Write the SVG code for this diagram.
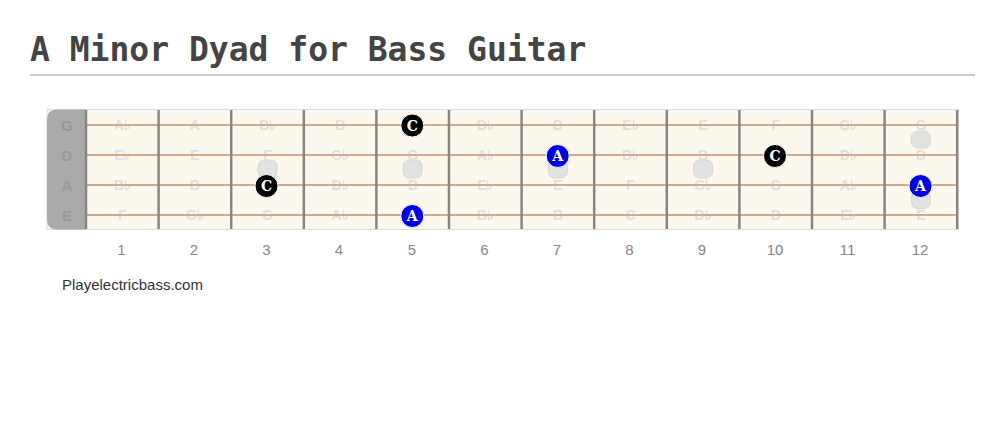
<svg xmlns="http://www.w3.org/2000/svg" width="1005" height="428" viewBox="0 0 1005 428">
<defs>
<style>
.title{font-family:"DejaVu Sans Mono",monospace;font-weight:bold;font-size:33px;fill:#444}
.sname{font-family:"Liberation Sans",Arial,sans-serif;font-weight:bold;font-size:15px;fill:#999;text-anchor:middle}
.note{font-family:"Liberation Sans",Arial,sans-serif;font-weight:bold;font-size:14px;fill:#e2dfda;text-anchor:middle}
.fnum{font-family:"Liberation Sans",Arial,sans-serif;font-size:15px;fill:#888;text-anchor:middle}
.credit{font-family:"Liberation Sans",Arial,sans-serif;font-size:15px;fill:#333}
.fret{stroke:#8a8580;stroke-width:2.5}
.str{stroke:#d2ab8c;stroke-width:2}
.inlay{fill:#e2e2e0;stroke:#d8d8d6;stroke-width:1}
.dotC{fill:#000;stroke:#fff;stroke-width:1}
.dotA{fill:#0000ee;stroke:#fff;stroke-width:1}
.dl{font-family:"DejaVu Serif","Liberation Serif",serif;font-weight:bold;font-size:14px;fill:#fff;text-anchor:middle}
</style>
</defs>
<rect width="1005" height="428" fill="#fff"/>
<text class="title" x="30" y="61">A Minor Dyad for Bass Guitar</text>
<line x1="30" y1="75" x2="975" y2="75" stroke="#ccc" stroke-width="2"/>

<g id="fretboard">
<rect x="47" y="109.5" width="911" height="120" fill="#fdf8ee" stroke="#ddd" stroke-width="1"/>
<path d="M86 109.5 H57 Q47 109.5 47 119.5 V219.5 Q47 229.5 57 229.5 H86 Z" fill="#aaa"/>
<text class="sname" x="67" y="130.5">G</text>
<text class="sname" x="67" y="160.5">D</text>
<text class="sname" x="67" y="190.5">A</text>
<text class="sname" x="67" y="220.5">E</text>
</g>

<g id="notes">
<text class="note" x="122.3" y="130">A♭</text><text class="note" x="194.9" y="130">A</text><text class="note" x="267.5" y="130">B♭</text><text class="note" x="340.1" y="130">B</text><text class="note" x="485.3" y="130">D♭</text><text class="note" x="557.9" y="130">D</text><text class="note" x="630.5" y="130">E♭</text><text class="note" x="703.1" y="130">E</text><text class="note" x="775.7" y="130">F</text><text class="note" x="848.3" y="130">G♭</text><text class="note" x="920.9" y="130">G</text>
<text class="note" x="122.3" y="160">E♭</text><text class="note" x="194.9" y="160">E</text><text class="note" x="267.5" y="160">F</text><text class="note" x="340.1" y="160">G♭</text><text class="note" x="412.7" y="160">G</text><text class="note" x="485.3" y="160">A♭</text><text class="note" x="630.5" y="160">B♭</text><text class="note" x="703.1" y="160">B</text><text class="note" x="848.3" y="160">D♭</text><text class="note" x="920.9" y="160">D</text>
<text class="note" x="122.3" y="190">B♭</text><text class="note" x="194.9" y="190">B</text><text class="note" x="340.1" y="190">D♭</text><text class="note" x="412.7" y="190">D</text><text class="note" x="485.3" y="190">E♭</text><text class="note" x="557.9" y="190">E</text><text class="note" x="630.5" y="190">F</text><text class="note" x="703.1" y="190">G♭</text><text class="note" x="775.7" y="190">G</text><text class="note" x="848.3" y="190">A♭</text>
<text class="note" x="122.3" y="220">F</text><text class="note" x="194.9" y="220">G♭</text><text class="note" x="267.5" y="220">G</text><text class="note" x="340.1" y="220">A♭</text><text class="note" x="485.3" y="220">B♭</text><text class="note" x="557.9" y="220">B</text><text class="note" x="630.5" y="220">C</text><text class="note" x="703.1" y="220">D♭</text><text class="note" x="775.7" y="220">D</text><text class="note" x="848.3" y="220">E♭</text><text class="note" x="920.9" y="220">E</text>
</g>

<g id="strings">
<line class="str" x1="86" y1="125" x2="958" y2="125"/>
<line class="str" x1="86" y1="155" x2="958" y2="155"/>
<line class="str" x1="86" y1="185" x2="958" y2="185"/>
<line class="str" x1="86" y1="215" x2="958" y2="215"/>
</g>

<g id="frets">
<line class="fret" x1="86" y1="110" x2="86" y2="229"/>
<line class="fret" x1="158.6" y1="110" x2="158.6" y2="229"/>
<line class="fret" x1="231.2" y1="110" x2="231.2" y2="229"/>
<line class="fret" x1="303.8" y1="110" x2="303.8" y2="229"/>
<line class="fret" x1="376.4" y1="110" x2="376.4" y2="229"/>
<line class="fret" x1="449" y1="110" x2="449" y2="229"/>
<line class="fret" x1="521.6" y1="110" x2="521.6" y2="229"/>
<line class="fret" x1="594.2" y1="110" x2="594.2" y2="229"/>
<line class="fret" x1="666.8" y1="110" x2="666.8" y2="229"/>
<line class="fret" x1="739.4" y1="110" x2="739.4" y2="229"/>
<line class="fret" x1="812" y1="110" x2="812" y2="229"/>
<line class="fret" x1="884.6" y1="110" x2="884.6" y2="229"/>
<line class="fret" x1="957.2" y1="110" x2="957.2" y2="229"/>
</g>

<g id="inlays">
<rect class="inlay" x="258" y="160" width="19" height="18" rx="6"/>
<rect class="inlay" x="403.2" y="160" width="19" height="18" rx="6"/>
<rect class="inlay" x="548.4" y="160" width="19" height="18" rx="6"/>
<rect class="inlay" x="693.6" y="160" width="19" height="18" rx="6"/>
<rect class="inlay" x="911.4" y="131" width="19" height="17" rx="6"/>
<rect class="inlay" x="911.4" y="191.5" width="19" height="17" rx="6"/>
</g>

<g id="dot-C-G5"><circle class="dotC" cx="412.3" cy="125.5" r="11.5"/><text class="dl" x="412.3" y="130.5">C</text></g>
<g id="dot-A-D7"><circle class="dotA" cx="557.7" cy="156" r="11.5"/><text class="dl" x="557.7" y="161">A</text></g>
<g id="dot-C-D10"><circle class="dotC" cx="775" cy="156" r="11.5"/><text class="dl" x="775" y="161">C</text></g>
<g id="dot-C-A3"><circle class="dotC" cx="266.5" cy="186" r="11.5"/><text class="dl" x="266.5" y="191">C</text></g>
<g id="dot-A-A12"><circle class="dotA" cx="920.5" cy="186" r="11.5"/><text class="dl" x="920.5" y="191">A</text></g>
<g id="dot-A-E5"><circle class="dotA" cx="412.3" cy="216" r="11.5"/><text class="dl" x="412.3" y="221">A</text></g>

<g id="fret-numbers">
<text class="fnum" x="121.5" y="255">1</text><text class="fnum" x="194" y="255">2</text><text class="fnum" x="266.5" y="255">3</text><text class="fnum" x="339" y="255">4</text><text class="fnum" x="412" y="255">5</text><text class="fnum" x="484.5" y="255">6</text><text class="fnum" x="557" y="255">7</text><text class="fnum" x="629.5" y="255">8</text><text class="fnum" x="702" y="255">9</text><text class="fnum" x="775" y="255">10</text><text class="fnum" x="847.5" y="255">11</text><text class="fnum" x="920" y="255">12</text>
</g>
<text class="credit" x="62" y="290">Playelectricbass.com</text>
</svg>
